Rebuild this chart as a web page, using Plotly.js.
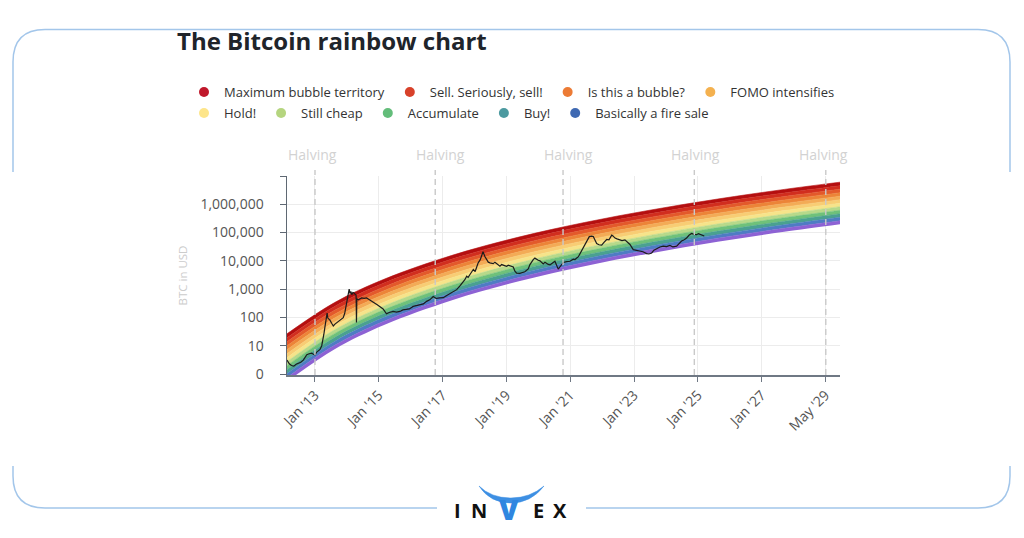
<!DOCTYPE html>
<html>
<head>
<meta charset="utf-8">
<script src="https://cdn.plot.ly/plotly-3.0.1.min.js"></script>
<style>
html,body{margin:0;padding:0;background:#ffffff;}
#chart{width:1024px;height:538px;}
</style>
</head>
<body>
<div id="chart"></div>
<script>
// ---------------- DATA ----------------
const priceDates = ['2012-01-26','2012-02-20','2012-03-15','2012-04-10','2012-05-05','2012-06-01','2012-06-25','2012-07-23','2012-08-15','2012-08-30','2012-09-25','2012-10-23','2012-11-10','2012-11-28','2012-12-15',
'2013-01-01','2013-01-22','2013-02-10','2013-02-21','2013-03-05','2013-03-18','2013-03-30','2013-04-10','2013-04-18','2013-05-11','2013-05-30','2013-06-17','2013-07-05','2013-07-24','2013-08-10','2013-08-29','2013-09-15','2013-10-04','2013-10-20','2013-11-03','2013-11-18','2013-11-28','2013-12-08','2013-12-18','2013-12-28',
'2014-01-05','2014-01-18','2014-01-30','2014-02-12','2014-02-22','2014-02-26','2014-03-02','2014-03-18','2014-04-05','2014-04-24','2014-05-20','2014-06-17','2014-07-05','2014-07-23','2014-08-20','2014-09-16','2014-10-12','2014-11-10','2014-12-15',
'2015-01-05','2015-01-22','2015-02-20','2015-04-05','2015-05-10','2015-06-17','2015-07-20','2015-08-29','2015-09-30','2015-11-10','2015-12-15',
'2016-01-22','2016-03-01','2016-04-05','2016-05-10','2016-06-17','2016-07-20','2016-08-29','2016-10-05','2016-11-12','2016-12-15',
'2017-01-22','2017-03-01','2017-04-06','2017-05-10','2017-05-30','2017-06-19','2017-07-05','2017-07-25','2017-08-31','2017-09-20','2017-10-23','2017-11-15','2017-12-02','2017-12-15',
'2018-01-06','2018-01-24','2018-02-11','2018-03-01','2018-04-06','2018-04-25','2018-05-20','2018-06-19','2018-07-07','2018-08-10','2018-08-31','2018-09-18','2018-10-15','2018-11-12','2018-11-30','2018-12-19',
'2019-01-24','2019-03-01','2019-03-19','2019-04-25','2019-05-14','2019-06-19','2019-07-07','2019-08-13','2019-09-01','2019-10-07','2019-10-26','2019-12-01','2019-12-20',
'2020-01-24','2020-02-12','2020-03-19','2020-04-15','2020-05-14','2020-06-20','2020-07-26','2020-08-31','2020-09-19','2020-10-26','2020-12-02',
'2021-01-07','2021-01-29','2021-02-23','2021-03-20','2021-04-08','2021-04-26','2021-05-15','2021-06-09','2021-07-09','2021-08-03','2021-09-02','2021-09-27','2021-10-27','2021-11-10','2021-12-02','2021-12-24',
'2022-01-26','2022-02-17','2022-03-21','2022-04-12','2022-05-15','2022-06-20','2022-07-20','2022-09-02','2022-10-05','2022-11-14','2022-12-09',
'2023-01-08','2023-02-02','2023-03-04','2023-04-09','2023-05-15','2023-06-21','2023-07-27','2023-08-29','2023-10-09','2023-11-03','2023-12-02','2023-12-27',
'2024-01-26','2024-02-21','2024-03-21','2024-04-16','2024-05-16','2024-06-04','2024-06-21','2024-07-13','2024-08-07'];
const priceUSD = [3.1,2.3,2.0,1.9,2.2,2.4,2.6,3.1,4.0,4.8,5.2,5.5,5.0,4.8,5.8,
6.5,7.4,10,14,25,48,90,142,95,80,62,50,58,64,70,78,85,98,140,244,480,830,1010,700,820,
640,760,735,660,600,66,460,420,460,490,470,490,450,420,370,320,280,245,200,
160,135,150,163,155,163,185,187,200,245,265,
280,300,370,420,550,470,490,500,600,700,
800,960,1300,1700,2150,2850,2600,3300,5000,4200,8500,11000,16000,21000,
14000,11100,9000,8500,8000,9000,7800,6500,7400,6700,6400,7000,6400,6100,4300,3700,
3600,3800,4100,5200,7400,11100,12500,10500,10000,7800,9000,7500,7200,
8800,9700,5100,7000,8800,9400,9700,11500,11100,14000,24000,
40000,50000,72000,75000,73000,55000,41000,37000,36000,45000,57000,55000,81000,76000,64000,60000,
57000,52000,55000,48000,38000,25000,24000,23000,21000,18000,17500,
19000,24000,27000,31000,33000,32000,35000,31000,33000,40000,50000,55000,
64000,80000,93000,86000,84000,92000,88000,80000,76000];

// Rainbow band edges, log10(USD), bottom edge (00) to top edge (12)
const bandDates = ['2012-01-25','2013-07-01','2015-01-01','2017-01-01','2019-01-01','2021-01-01','2023-01-01','2025-01-01','2027-01-01','2028-09-04'];
const edgeLog00 = [-0.270,0.878,1.741,2.599,3.269,3.813,4.273,4.674,5.026,5.293];
const edgeLog01 = [-0.129,1.015,1.876,2.731,3.399,3.942,4.400,4.800,5.151,5.417];
const edgeLog02 = [0.012,1.153,2.011,2.864,3.529,4.070,4.527,4.926,5.276,5.541];
const edgeLog03 = [0.152,1.290,2.145,2.996,3.660,4.199,4.655,5.052,5.401,5.665];
const edgeLog04 = [0.293,1.427,2.280,3.128,3.790,4.327,4.782,5.178,5.526,5.789];
const edgeLog05 = [0.434,1.565,2.415,3.261,3.920,4.456,4.909,5.304,5.651,5.914];
const edgeLog06 = [0.575,1.702,2.550,3.393,4.050,4.585,5.036,5.430,5.776,6.038];
const edgeLog07 = [0.716,1.839,2.685,3.525,4.180,4.713,5.163,5.556,5.901,6.162];
const edgeLog08 = [0.856,1.976,2.819,3.657,4.311,4.842,5.291,5.682,6.026,6.286];
const edgeLog09 = [0.997,2.114,2.954,3.790,4.441,4.970,5.418,5.808,6.151,6.410];
const edgeLog10 = [1.138,2.251,3.089,3.922,4.571,5.099,5.545,5.934,6.276,6.534];
const edgeLog11 = [1.279,2.388,3.224,4.054,4.701,5.228,5.672,6.060,6.401,6.658];
const edgeLog12 = [1.420,2.525,3.358,4.186,4.831,5.356,5.799,6.186,6.526,6.782];
const bandEdges = [edgeLog00,edgeLog01,edgeLog02,edgeLog03,edgeLog04,edgeLog05,edgeLog06,edgeLog07,edgeLog08,edgeLog09,edgeLog10,edgeLog11,edgeLog12];
const bandColors = ['#8d62d4','#4e7cc4','#4aa190','#6fc17a','#b7d98a','#f6e48a','#f8cd74','#f3ab56','#ec8438','#e3592b','#d12e1f','#b40f10'];

const legendLabels = ['Maximum bubble territory','Sell. Seriously, sell!','Is this a bubble?','FOMO intensifies','Hold!','Still cheap','Accumulate','Buy!','Basically a fire sale'];
const legendColors = ['#c0182b','#d8412a','#ec7b35','#f4b14f','#fde58a','#b5d57f','#63bd7a','#4c9aa0','#3f69b2'];

const halvingDates = ['2012-11-28','2016-07-09','2020-05-11','2024-04-20','2028-04-01'];
const halvingLabel = 'Halving';

const xTickDates = ['2012-11-28','2014-10-29','2016-09-28','2018-08-29','2020-07-29','2022-06-29','2024-05-29','2026-04-29','2028-03-29'];
const xTickText = ["Jan '13","Jan '15","Jan '17","Jan '19","Jan '21","Jan '23","Jan '25","Jan '27","May '29"];
const yTickValues = [1,10,100,1000,10000,100000,1000000,10000000];
const yTickText = ['0','10','100','1,000','10,000','100,000','1,000,000',''];

// ---------------- LAYOUT HELPERS ----------------
const W = 1024, H = 538;
const PL = 287, PR = 840, PT = 176, PB = 375;
const px2x = p => (p - PL) / (PR - PL);
const py2y = p => (PB - p) / (PB - PT);
const FONT = 'Open Sans, Noto Sans, sans-serif';

function pathFrom(cmds) {
  return cmds.map(c => {
    const pts = [];
    for (let i = 1; i < c.length; i += 2) pts.push(px2x(c[i]).toFixed(5) + ',' + py2y(c[i+1]).toFixed(5));
    return c[0] + ' ' + pts.join(' ');
  }).join(' ');
}

// ---------------- TRACES ----------------
const traces = [];
bandEdges.forEach((edge, k) => {
  const t = {
    x: bandDates,
    y: edge.map(v => Math.pow(10, v)),
    type: 'scatter', mode: 'lines',
    line: {shape: 'spline', width: k === 0 ? 0 : 0.6, color: k === 0 ? 'rgba(0,0,0,0)' : bandColors[k-1]},
    showlegend: false, hoverinfo: 'skip'
  };
  if (k > 0) { t.fill = 'tonexty'; t.fillcolor = bandColors[k-1]; }
  traces.push(t);
});
traces.push({
  x: priceDates, y: priceUSD, type: 'scatter', mode: 'lines',
  line: {color: '#1c1c1c', width: 1.2}, showlegend: false, name: 'BTC'
});
legendLabels.forEach((lab, i) => {
  traces.push({
    x: [null], y: [null], type: 'scatter', mode: 'markers', name: lab,
    marker: {size: 10, color: legendColors[i], symbol: 'circle'},
    legend: i < 4 ? 'legend' : 'legend2', showlegend: true
  });
});

// ---------------- SHAPES ----------------
const shapes = [];
halvingDates.forEach(d => shapes.push({
  type: 'line', xref: 'x', yref: 'paper', x0: d, x1: d, y0: 0, y1: 1.03,
  line: {color: '#c9c9c9', width: 1.4, dash: '6px,4px'}, layer: 'above'
}));
const frameColor = '#a3c6ea';
shapes.push({type: 'path', xref: 'paper', yref: 'paper', line: {color: frameColor, width: 1.5},
  path: pathFrom([['M',13,172],['L',13,62],['Q',13,29.5,45,29.5],['L',978,29.5],['Q',1010,29.5,1010,62],['L',1010,172]])});
shapes.push({type: 'path', xref: 'paper', yref: 'paper', line: {color: frameColor, width: 1.5},
  path: pathFrom([['M',13,466],['L',13,476],['Q',13,508,45,508],['L',437,508]])});
shapes.push({type: 'path', xref: 'paper', yref: 'paper', line: {color: frameColor, width: 1.5},
  path: pathFrom([['M',586,508],['L',978,508],['Q',1010,508,1010,476],['L',1010,466]])});
// logo horns
shapes.push({type: 'path', xref: 'paper', yref: 'paper', line: {color: '#3d8fe3', width: 0.5}, fillcolor: '#3d8fe3',
  path: pathFrom([['M',479,486],['Q',490,503,511,503],['Q',531,503,544,486],['Q',530,498,511,498],['Q',491,498,479,486],['Z']])});

// ---------------- ANNOTATIONS ----------------
const annotations = [];
halvingDates.forEach((d, i) => annotations.push({
  x: xTickDates[2*i], xref: 'x', y: py2y(154), yref: 'paper', text: halvingLabel,
  showarrow: false, xanchor: 'center', yanchor: 'middle', xshift: -2,
  font: {family: FONT, size: 14, color: '#d2d2d2'}
}));
[['I',457.5,'#111'],['N',478.5,'#111'],['V',509,'#2f86e0'],['E',538.5,'#111'],['X',560,'#111']].forEach(([ch, px, col]) => {
  annotations.push({x: px2x(px), y: py2y(ch === 'V' ? 509 : 510.5), xref: 'paper', yref: 'paper', text: ch,
    showarrow: false, xanchor: 'center', yanchor: 'middle',
    font: {family: FONT, size: ch === 'V' ? 28 : 20, color: col, weight: ch === 'V' ? 800 : 700}});
});

// ---------------- LAYOUT ----------------
const legendBase = {
  orientation: 'h', xref: 'paper', yref: 'paper', xanchor: 'left', yanchor: 'middle',
  x: px2x(184), font: {family: FONT, size: 13, color: '#333333'}, bgcolor: 'rgba(0,0,0,0)',
  itemclick: false, itemdoubleclick: false, traceorder: 'normal'
};
const layout = {
  width: W, height: H,
  margin: {l: PL, r: W - PR, t: PT, b: H - PB, pad: 0},
  paper_bgcolor: '#ffffff', plot_bgcolor: '#ffffff',
  font: {family: FONT, color: '#444'},
  title: {text: 'The Bitcoin rainbow chart', xref: 'container', yref: 'container', x: 177 / W, xanchor: 'left',
    y: 1 - 42 / H, yanchor: 'middle', font: {family: FONT, size: 24, color: '#20242a', weight: 700}},
  legend: Object.assign({}, legendBase, {y: py2y(92)}),
  legend2: Object.assign({}, legendBase, {y: py2y(113)}),
  xaxis: {
    type: 'date', range: ['2012-01-26', '2028-09-04'],
    tickmode: 'array', tickvals: xTickDates, ticktext: xTickText, tickangle: -45,
    ticks: 'outside', ticklen: 5, tickcolor: '#6f7884', tickwidth: 1,
    showline: true, linecolor: '#6f7884', linewidth: 1.5,
    showgrid: true, gridcolor: '#ececec', gridwidth: 1, zeroline: false,
    tickfont: {family: FONT, size: 14, color: '#555'}, fixedrange: true
  },
  yaxis: {
    type: 'log', range: [-0.035, 7],
    tickmode: 'array', tickvals: yTickValues, ticktext: yTickText,
    ticks: 'outside', ticklen: 6, tickcolor: '#5f6873', tickwidth: 1,
    showline: true, linecolor: '#5f6873', linewidth: 1.5,
    showgrid: true, gridcolor: '#ececec', gridwidth: 1, zeroline: false,
    tickfont: {family: FONT, size: 14, color: '#555'}, ticklabelstandoff: 13,
    title: {text: 'BTC in USD', font: {family: FONT, size: 11.5, color: '#cccccc'}, standoff: 10},
    fixedrange: true
  },
  shapes: shapes,
  annotations: annotations,
  showlegend: true,
  hovermode: false
};

Plotly.newPlot('chart', traces, layout, {displayModeBar: false, staticPlot: true});
</script>
</body>
</html>
